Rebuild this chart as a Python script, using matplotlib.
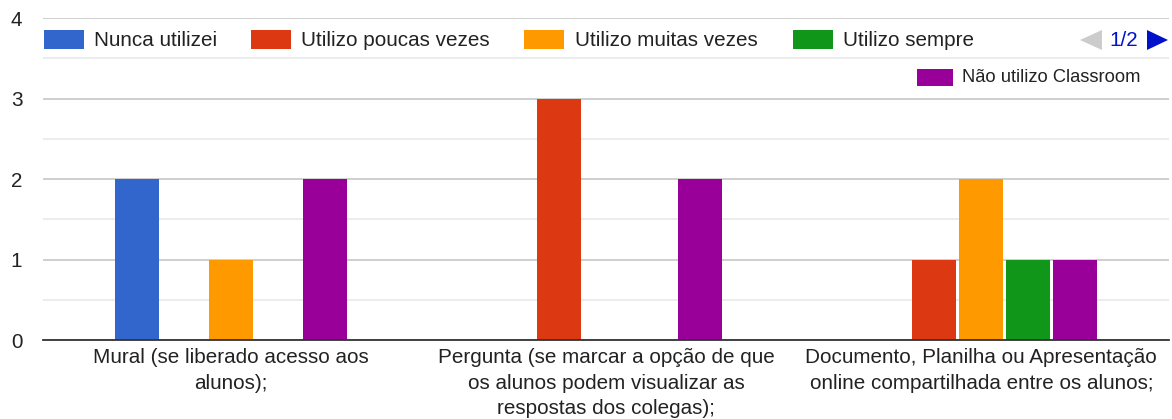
import matplotlib
matplotlib.use("Agg")
import matplotlib.pyplot as plt
from matplotlib.patches import Rectangle, Polygon
import numpy as np

categories = [
    "Mural (se liberado acesso aos\nalunos);",
    "Pergunta (se marcar a opção de que\nos alunos podem visualizar as\nrespostas dos colegas);",
    "Documento, Planilha ou Apresentação\nonline compartilhada entre os alunos;",
]
series_names = ["Nunca utilizei", "Utilizo poucas vezes", "Utilizo muitas vezes",
                "Utilizo sempre", "Não utilizo Classroom"]
values = {
    "Nunca utilizei": [2, 0, 0],
    "Utilizo poucas vezes": [0, 3, 1],
    "Utilizo muitas vezes": [1, 0, 2],
    "Utilizo sempre": [0, 0, 1],
    "Não utilizo Classroom": [2, 2, 1],
}
colors = ["#3366CC", "#DC3912", "#FF9900", "#109618", "#990099"]
yticks = [0, 1, 2, 3, 4]

plt.rcParams['font.family'] = ['Liberation Sans', 'DejaVu Sans']
W, H = 1172, 419
fig = plt.figure(figsize=(W / 100, H / 100), dpi=100)
ax = fig.add_axes([43 / W, 1 - 340 / H, 1126 / W, 322 / H])

FS = 14.9

step = 47 / 375
width = 44 / 375
x = np.arange(len(categories))
for j, name in enumerate(series_names):
    v = np.array(values[name], dtype=float)
    ax.bar(x + (j - 2) * step, v, width=width, color=colors[j], linewidth=0, zorder=3)

ax.set_xlim(-0.5, 2.5)
ax.set_ylim(0, 4)
ax.set_yticks(yticks)
ax.set_yticks([0.5, 1.5, 2.5, 3.5], minor=True)
ax.yaxis.grid(True, which='major', color='#cccccc', linewidth=1.3, zorder=0)
ax.yaxis.grid(True, which='minor', color='#ebebeb', linewidth=1.3, zorder=0)
ax.tick_params(axis='y', which='both', length=0, pad=15, labelsize=FS, labelcolor='#222222')
ax.set_xticks(x)
ax.set_xticklabels(categories, fontsize=FS, color='#222222', linespacing=1.42, va='top')
ax.tick_params(axis='x', length=0, pad=6)
for s in ['top', 'right', 'left']:
    ax.spines[s].set_visible(False)
ax.spines['bottom'].set_color('#333333')
ax.spines['bottom'].set_linewidth(1.3)
ax.spines['bottom'].set_zorder(4)

def fx(px):
    return px / W

def fy(py):
    return 1 - py / H

# legend row 1
row1 = [(44, 94), (251, 301), (524, 575), (793, 843)]
for j, (bx, tx) in enumerate(row1):
    fig.add_artist(Rectangle((fx(bx), fy(49)), fx(40), 19 / H, transform=fig.transFigure,
                             color=colors[j], linewidth=0))
    fig.text(fx(tx), fy(40), series_names[j], fontsize=FS, color='#222222', va='center', ha='left')
# paging
fig.add_artist(Polygon([[fx(1080), fy(40)], [fx(1102), fy(30)], [fx(1102), fy(50)]],
                       closed=True, transform=fig.transFigure, color='#cccccc', linewidth=0))
fig.text(fx(1124), fy(40), "1/2", fontsize=FS, color='#0011cc', va='center', ha='center')
fig.add_artist(Polygon([[fx(1147), fy(30)], [fx(1168), fy(40)], [fx(1147), fy(50)]],
                       closed=True, transform=fig.transFigure, color='#0011cc', linewidth=0))
# legend row 2
fig.add_artist(Rectangle((fx(917), fy(86)), fx(36), 17 / H, transform=fig.transFigure,
                         color=colors[4], linewidth=0))
fig.text(fx(962), fy(77.5), series_names[4], fontsize=13.2, color='#222222', va='center', ha='left')

fig.savefig("out.png", dpi=100)
